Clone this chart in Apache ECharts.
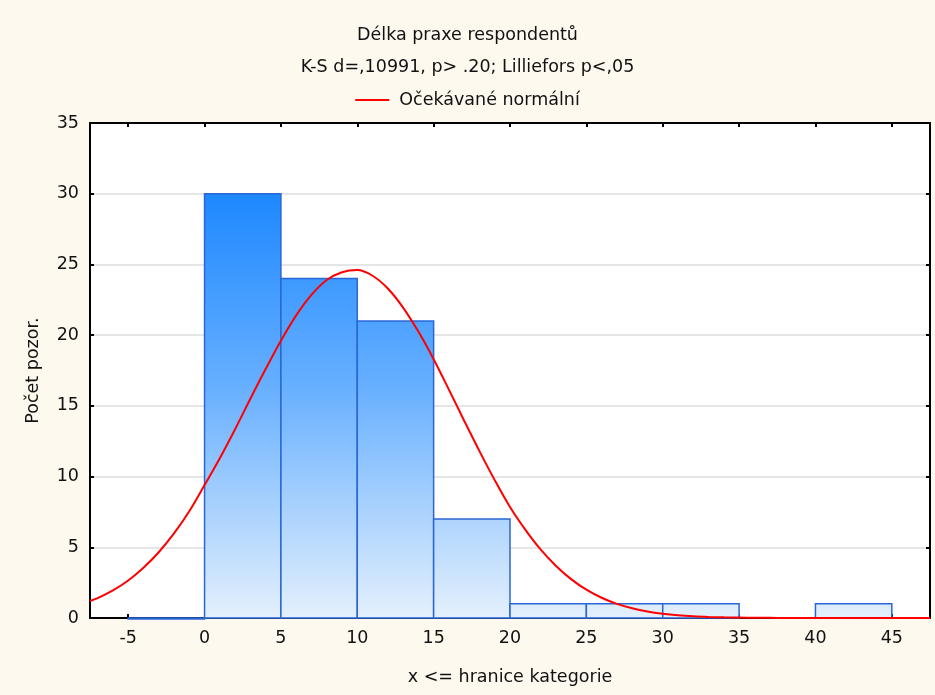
<!DOCTYPE html>
<html>
<head>
<meta charset="utf-8">
<script src="https://cdn.jsdelivr.net/npm/echarts@6/dist/echarts.min.js"></script>
<style>
html,body{margin:0;padding:0;background:#fef9ef;}
#chart{width:935px;height:695px;}
</style>
</head>
<body>
<div id="chart"></div>
<script>
// ---- data ----
const titleText = 'Délka praxe respondentů';
const subtitleText = 'K-S d=,10991, p> .20; Lilliefors p<,05';
const legendName = 'Očekávané normální';
const xAxisName = 'x <= hranice kategorie';
const yAxisName = 'Počet pozor.';

// histogram bins (upper edge = "x <=" category boundary)
const binStarts = [-5, 0, 5, 10, 15, 20, 25, 30, 35, 40];
const binEnds   = [0, 5, 10, 15, 20, 25, 30, 35, 40, 45];
const binCounts = [0, 30, 24, 21, 7, 1, 1, 1, 0, 1];

// expected normal curve
const curveX = [-7.5, -7, -6, -5, -4, -3, -2, -1, 0, 1, 2, 3, 4, 5, 6, 7, 8, 9, 10, 11, 12, 13, 14, 15, 16, 17, 18, 19, 20, 21, 22, 23, 24, 25, 26, 27, 28, 29, 30, 31, 32, 33, 34, 35, 36, 37, 38, 39, 40, 42, 44, 46, 47.5];
const curveY = [1.2, 1.4, 1.95, 2.65, 3.55, 4.65, 5.98, 7.55, 9.4, 11.3, 13.35, 15.5, 17.6, 19.6, 21.4, 22.85, 23.9, 24.45, 24.6, 24.2, 23.3, 21.95, 20.25, 18.3, 16.15, 13.95, 11.8, 9.75, 7.85, 6.25, 4.85, 3.7, 2.75, 2.0, 1.43, 1.0, 0.69, 0.46, 0.3, 0.19, 0.12, 0.075, 0.045, 0.027, 0.016, 0.009, 0.005, 0.003, 0.002, 0.001, 0, 0, 0];

const xTicks = [-5, 0, 5, 10, 15, 20, 25, 30, 35, 40, 45];

// ---- build ----
const FONT = 'DejaVu Sans';
const FS = 17.5;
const TXT = '#111111';
const histData = binStarts.map((s, i) => [s, binEnds[i], binCounts[i], i]);
const lineData = curveX.map((x, i) => [x, curveY[i]]);

const chart = echarts.init(document.getElementById('chart'));

const axisLineStyle = { color: '#000', width: 2 };

const option = {
  backgroundColor: '#fef9ef',
  animation: false,
  textStyle: { fontFamily: FONT },
  title: {
    text: titleText,
    subtext: subtitleText,
    left: 'center',
    top: 20,
    itemGap: 12,
    textStyle: { fontFamily: FONT, fontSize: FS, fontWeight: 'normal', color: TXT, lineHeight: 20 },
    subtextStyle: { fontFamily: FONT, fontSize: FS, color: TXT, lineHeight: 20 }
  },
  legend: {
    top: 86,
    left: 'center',
    itemWidth: 34,
    itemHeight: 14,
    itemGap: 10,
    textStyle: { fontFamily: FONT, fontSize: FS, color: TXT, padding: [0, 0, 0, 5] },
    data: [{ name: legendName, icon: 'path://M0,6 L34,6 L34,8 L0,8 Z' }]
  },
  grid: { left: 90, right: 5, top: 123, bottom: 77, show: true, backgroundColor: '#ffffff', borderWidth: 0 },
  xAxis: [{
    type: 'value',
    position: 'bottom',
    min: -7.5,
    max: 47.5,
    name: xAxisName,
    nameLocation: 'middle',
    nameGap: 50,
    nameTextStyle: { fontFamily: FONT, fontSize: FS, color: TXT },
    axisLine: { show: true, onZero: false, lineStyle: axisLineStyle },
    axisTick: { show: true, inside: true, length: 4, customValues: xTicks, lineStyle: { color: '#000', width: 2 } },
    axisLabel: { customValues: xTicks, margin: 11, fontFamily: FONT, fontSize: FS, color: TXT },
    splitLine: { show: false }
  }, {
    type: 'value',
    position: 'top',
    min: -7.5,
    max: 47.5,
    axisLine: { show: true, onZero: false, lineStyle: axisLineStyle },
    axisTick: { show: true, inside: true, length: 4, customValues: xTicks, lineStyle: { color: '#000', width: 2 } },
    axisLabel: { show: false, customValues: xTicks },
    splitLine: { show: false }
  }],
  yAxis: [{
    type: 'value',
    position: 'left',
    min: 0,
    max: 35,
    interval: 5,
    name: yAxisName,
    nameLocation: 'middle',
    nameGap: 48,
    nameTextStyle: { fontFamily: FONT, fontSize: FS, color: TXT },
    axisLine: { show: true, onZero: false, lineStyle: axisLineStyle },
    axisTick: { show: true, inside: true, length: 4, lineStyle: { color: '#000', width: 2 } },
    axisLabel: { margin: 11, fontFamily: FONT, fontSize: FS, color: TXT },
    splitLine: { show: true, lineStyle: { color: '#dedede', width: 1.5 } }
  }, {
    type: 'value',
    position: 'right',
    min: 0,
    max: 35,
    interval: 5,
    axisLine: { show: true, onZero: false, lineStyle: axisLineStyle },
    axisTick: { show: true, inside: true, length: 4, lineStyle: { color: '#000', width: 2 } },
    axisLabel: { show: false },
    splitLine: { show: false }
  }],
  series: [{
    type: 'custom',
    name: 'hist',
    xAxisIndex: 0,
    yAxisIndex: 0,
    data: histData,
    z: 2,
    renderItem: function (params, api) {
      const s = api.value(0), e = api.value(1), c = api.value(2), idx = api.value(3);
      if (c <= 0 && idx !== 0) return null;
      const p0 = api.coord([s, 0]);
      const p1 = api.coord([e, c]);
      const yTop = api.coord([0, 30])[1];
      const yBot = api.coord([0, 0])[1];
      const grad = new echarts.graphic.LinearGradient(0, yTop, 0, yBot, [
        { offset: 0, color: '#1e88ff' },
        { offset: 0.45, color: '#66afff' },
        { offset: 1, color: '#e4f0fc' }
      ], true);
      return {
        type: 'rect',
        shape: { x: p0[0], y: p1[1], width: p1[0] - p0[0], height: p0[1] - p1[1] + (c <= 0 ? 1 : 0) },
        style: { fill: grad, stroke: '#2a66d6', lineWidth: 1.5 }
      };
    }
  }, {
    type: 'line',
    name: legendName,
    xAxisIndex: 0,
    yAxisIndex: 0,
    data: lineData,
    smooth: 0.35,
    symbol: 'none',
    clip: true,
    z: 3,
    lineStyle: { color: '#ff0000', width: 2 },
    itemStyle: { color: '#ff0000' }
  }]
};
chart.setOption(option);
</script>
</body>
</html>
